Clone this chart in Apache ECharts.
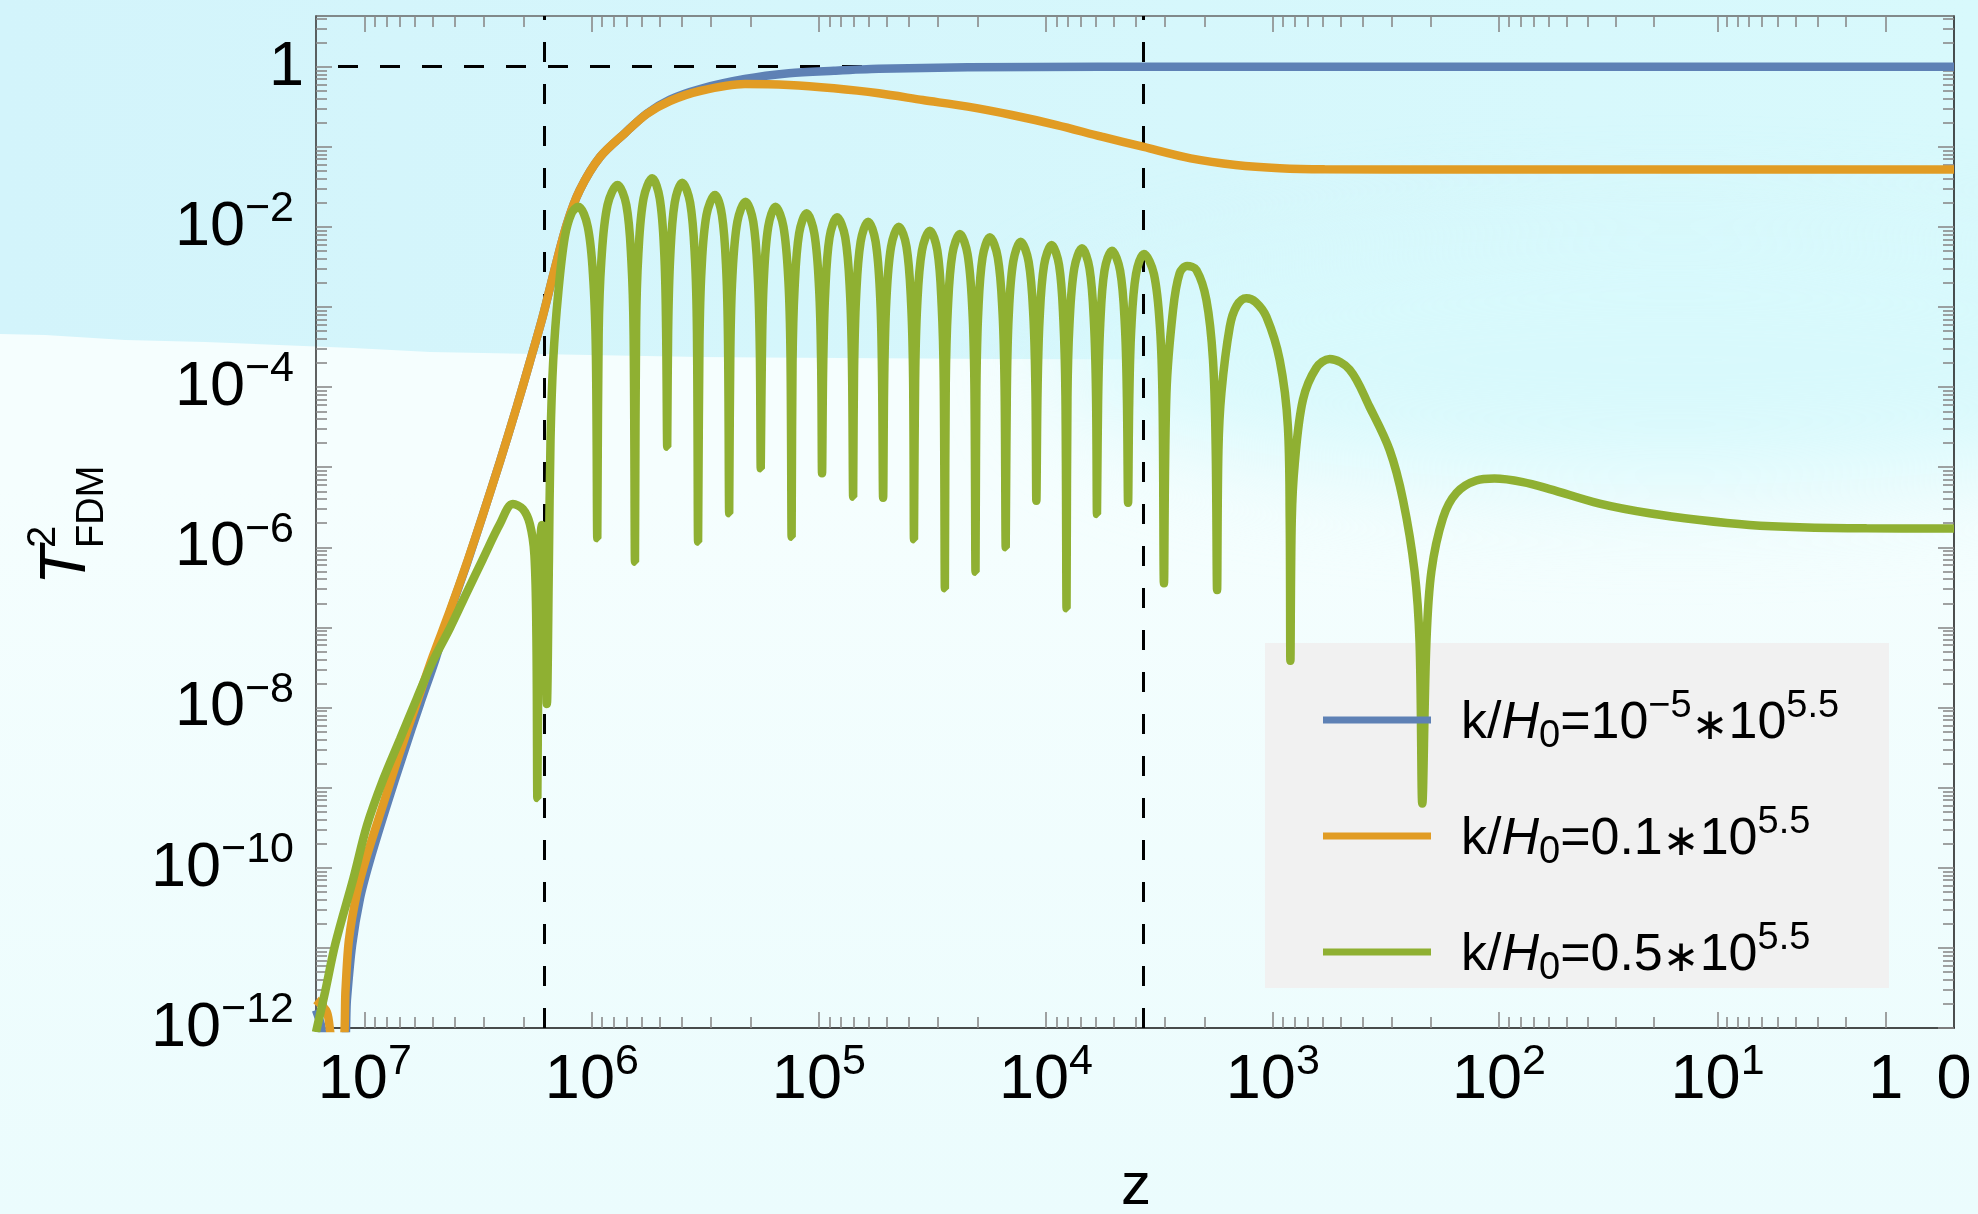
<!DOCTYPE html>
<html>
<head>
<meta charset="utf-8">
<script src="https://cdn.jsdelivr.net/npm/echarts@6/dist/echarts.min.js"></script>
<style>
  html, body { margin: 0; padding: 0; background: #f5fefe; }
  #wrap { position: relative; width: 1978px; height: 1214px; overflow: hidden; }
  .bg { position: absolute; left: 0; top: 0; width: 1978px; height: 1214px; }
  .base { background: linear-gradient(180deg, #f5fefe 0%, #f5fefe 40%, #ebfcfd 100%); }
  .upper {
    background: linear-gradient(90deg, #d3f4fb 0%, #d8f9fc 100%);
    clip-path: polygon(0 0, 1978px 0, 1978px 362px, 1000px 359px, 700px 357px, 430px 352px,
                       353px 348px, 205px 342px, 125px 340px, 45px 335px, 0 334px);
  }
  .glow {
    left: 1050px; top: 235px; width: 1250px; height: 250px;
    background: #d8f9fc; border-radius: 50%; filter: blur(50px);
  }
  #chart { position: absolute; left: 0; top: 0; width: 1978px; height: 1214px; }
</style>
</head>
<body>
<div id="wrap">
  <div class="bg base"></div>
  <div class="bg upper"></div>
  <div class="bg glow"></div>
  <div id="chart"></div>
</div>
<script>
// T^2_FDM against redshift on log-log axes.
// x values are log10(1+z) (z decreases to the right), y values are log10(T^2).

const X_RANGE = [0, 7.215];
const Y_RANGE = [-12, 0.633];

// Tick labels
const xTickZ = [1e7, 1e6, 1e5, 1e4, 1e3, 100, 10, 1, 0];
const xTickText = ['10^7', '10^6', '10^5', '10^4', '10^3', '10^2', '10^1', '1', '0'];
const yTickT2 = [1, 1e-2, 1e-4, 1e-6, 1e-8, 1e-10, 1e-12];
const yTickText = ['1', '10^\u22122', '10^\u22124', '10^\u22126', '10^\u22128', '10^\u221210', '10^\u221212'];

// Dashed reference lines: two redshifts and T^2 = 1
const zMarks = [1.64e6, 3700];
const t2Mark = 1;

// Series names (legend keys)
const seriesNames = ['k/H0=10^-5*10^5.5', 'k/H0=0.1*10^5.5', 'k/H0=0.5*10^5.5'];
const seriesColors = ['#5E81B5', '#E19C24', '#8FB032'];

// [log10(1+z), log10(T^2)]
const bluePts = [
  [7.215,-11.776],[7.193,-11.963],[7.175,-12.213],[7.092,-12.213],[7.079,-11.651],[7.056,-10.965],
  [7.021,-10.378],[6.977,-9.904],[6.907,-9.254],[6.832,-8.593],[6.757,-7.956],[6.687,-7.382],
  [6.625,-6.810],[6.550,-6.200],[6.480,-5.594],[6.405,-4.931],[6.330,-4.237],[6.273,-3.683],
  [6.217,-3.125],[6.167,-2.563],[6.110,-1.964],[6.053,-1.539],[5.964,-1.127],[5.854,-0.828],
  [5.758,-0.585],[5.656,-0.410],[5.524,-0.278],[5.326,-0.154],[5.132,-0.082],[4.934,-0.050],
  [4.736,-0.026],[4.344,-0.008],[3.763,-0.001],[0,0]
];

const orangePts = [
  [7.215,-11.651],[7.167,-11.801],[7.140,-12.151],[7.096,-12.151],[7.085,-11.527],[7.070,-10.902],
  [7.034,-10.303],[6.990,-9.841],[6.920,-9.217],[6.845,-8.555],[6.770,-7.931],[6.700,-7.357],
  [6.625,-6.789],[6.550,-6.189],[6.480,-5.594],[6.405,-4.931],[6.330,-4.237],[6.273,-3.683],
  [6.217,-3.125],[6.167,-2.563],[6.110,-1.964],[6.053,-1.539],[5.964,-1.127],[5.854,-0.828],
  [5.758,-0.591],[5.656,-0.428],[5.524,-0.303],[5.326,-0.216],[5.132,-0.228],[4.934,-0.270],
  [4.736,-0.332],[4.542,-0.416],[4.344,-0.499],[4.150,-0.603],[3.952,-0.728],[3.754,-0.874],
  [3.569,-1.002],[3.362,-1.144],[3.164,-1.227],[2.970,-1.268],[2.772,-1.281],[2.222,-1.283],
  [0,-1.283]
];

const greenPts = [
  [7.215,-12.051],[7.175,-11.551],[7.129,-10.940],[7.050,-10.128],[6.990,-9.467],[6.920,-8.905],
  [6.845,-8.393],[6.770,-7.881],[6.700,-7.419],[6.625,-7.007],[6.550,-6.558],[6.480,-6.146],
  [6.405,-5.709],[6.348,-5.459],[6.304,-5.522],[6.273,-5.709],[6.253,-6.096],[6.244,-7.157],
  [6.240,-9.130],[6.235,-7.157],[6.229,-6.034],[6.220,-5.721],[6.211,-6.034],[6.203,-6.907],
  [6.198,-7.956],[6.189,-6.158],[6.182,-4.660],[6.170,-3.662],[6.148,-2.825],[6.119,-2.126],
  [6.089,-1.826],[6.060,-1.748],
  [6.018,-1.998],[5.993,-2.688],[5.982,-3.618],[5.976,-5.887],
  [5.970,-3.347],[5.958,-2.417],[5.931,-1.727],[5.887,-1.477],
  [5.848,-1.727],[5.826,-2.417],[5.816,-3.347],[5.810,-6.180],
  [5.805,-3.263],[5.795,-2.333],[5.772,-1.643],[5.734,-1.393],
  [5.701,-1.643],[5.681,-2.333],[5.673,-3.263],[5.668,-4.744],
  [5.664,-3.318],[5.655,-2.388],[5.635,-1.698],[5.602,-1.448],
  [5.567,-1.698],[5.546,-2.388],[5.537,-3.318],[5.532,-5.930],
  [5.526,-3.472],[5.517,-2.542],[5.495,-1.852],[5.458,-1.602],
  [5.427,-1.852],[5.408,-2.542],[5.400,-3.472],[5.395,-5.575],
  [5.390,-3.555],[5.381,-2.625],[5.359,-1.935],[5.323,-1.685],
  [5.289,-1.935],[5.269,-2.625],[5.260,-3.555],[5.256,-5.014],
  [5.251,-3.618],[5.243,-2.688],[5.223,-1.998],[5.191,-1.748],
  [5.156,-1.998],[5.134,-2.688],[5.125,-3.618],[5.120,-5.868],
  [5.116,-3.700],[5.107,-2.770],[5.087,-2.080],[5.054,-1.830],
  [5.020,-2.080],[4.999,-2.770],[4.990,-3.700],[4.986,-5.076],
  [4.981,-3.750],[4.972,-2.820],[4.953,-2.130],[4.920,-1.880],
  [4.884,-2.130],[4.863,-2.820],[4.854,-3.750],[4.849,-5.368],
  [4.845,-3.805],[4.836,-2.875],[4.816,-2.185],[4.783,-1.935],
  [4.750,-2.185],[4.730,-2.875],[4.722,-3.805],[4.717,-5.381],
  [4.712,-3.867],[4.703,-2.937],[4.682,-2.247],[4.648,-1.997],
  [4.614,-2.247],[4.594,-2.937],[4.585,-3.867],[4.581,-5.900],
  [4.576,-3.917],[4.567,-2.987],[4.546,-2.297],[4.511,-2.047],
  [4.478,-2.297],[4.459,-2.987],[4.450,-3.917],[4.445,-6.512],
  [4.441,-3.959],[4.432,-3.029],[4.412,-2.339],[4.379,-2.089],
  [4.345,-2.339],[4.324,-3.029],[4.315,-3.959],[4.310,-6.304],
  [4.306,-4.000],[4.298,-3.070],[4.279,-2.380],[4.247,-2.130],
  [4.212,-2.380],[4.191,-3.070],[4.182,-4.000],[4.177,-6.000],
  [4.172,-4.055],[4.164,-3.125],[4.144,-2.435],[4.111,-2.185],
  [4.076,-2.435],[4.055,-3.125],[4.046,-4.055],[4.042,-5.418],
  [4.037,-4.096],[4.028,-3.166],[4.008,-2.476],[3.975,-2.226],
  [3.942,-2.476],[3.923,-3.166],[3.914,-4.096],[3.909,-6.761],
  [3.905,-4.137],[3.896,-3.207],[3.875,-2.517],[3.841,-2.267],
  [3.808,-2.517],[3.788,-3.207],[3.779,-4.137],[3.775,-5.584],
  [3.770,-4.167],[3.761,-3.237],[3.742,-2.547],[3.709,-2.297],
  [3.673,-2.547],[3.652,-3.237],[3.643,-4.167],[3.638,-5.443],
  [3.633,-4.208],[3.624,-3.278],[3.603,-2.588],[3.568,-2.338],
  [3.524,-2.588],[3.497,-3.278],[3.486,-4.208],[3.480,-6.449],
  [3.469,-4.077],[3.440,-3.037],[3.411,-2.579],[3.378,-2.488],
  [3.337,-2.538],[3.293,-2.913],[3.264,-3.662],[3.252,-4.785],[3.246,-6.533],
  [3.240,-4.785],[3.227,-4.074],[3.190,-3.246],[3.160,-2.987],[3.117,-2.891],
  [3.076,-2.938],[3.029,-3.121],[2.970,-3.662],[2.934,-4.494],[2.926,-5.659],[2.923,-7.416],
  [2.917,-5.659],[2.904,-4.960],[2.868,-4.161],[2.809,-3.760],[2.750,-3.649],
  [2.662,-3.781],[2.574,-4.248],[2.486,-4.785],[2.427,-5.409],[2.376,-6.301],[2.354,-7.193],[2.342,-9.199],
  [2.324,-7.193],[2.302,-6.301],[2.251,-5.633],[2.192,-5.321],[2.104,-5.165],[2.024,-5.142],
  [1.899,-5.185],[1.781,-5.272],[1.561,-5.454],[1.341,-5.575],[1.121,-5.659],[0.901,-5.721],
  [0.681,-5.750],[0.385,-5.763],[0,-5.765]
];

const FONT = '"Liberation Sans", Arial, Helvetica, sans-serif';

// ---- axis geometry helpers ----
const lz = z => Math.log10(1 + z);
const xLabelPos = xTickZ.map(lz);
const xMajorPos = xTickZ.filter(z => z > 0).map(lz);
const xMinorPos = [];
for (let n = 0; n <= 6; n++) {
  for (let m = 2; m <= 9; m++) xMinorPos.push(lz(m * Math.pow(10, n)));
}
const yLabelPos = yTickT2.map(v => Math.log10(v));
const yMajorPos = [];
const yMinorPos = [];
for (let n = -12; n <= 0; n++) {
  yMajorPos.push(n);
  for (let m = 2; m <= 9; m++) {
    const p = n + Math.log10(m);
    if (p <= Y_RANGE[1]) yMinorPos.push(p);
  }
}

function nearest(arr, v) {
  let best = 0;
  for (let i = 1; i < arr.length; i++) if (Math.abs(arr[i] - v) < Math.abs(arr[best] - v)) best = i;
  return best;
}
function richPow(t) {
  const p = t.split('^');
  return p.length > 1 ? '{b|' + p[0] + '}{s|' + p[1] + '}' : '{b|' + p[0] + '}';
}

const tickRichX = {
  b: { fontFamily: FONT, fontSize: 63, lineHeight: 80, verticalAlign: 'bottom', padding: [0, 0, 8, 0], color: '#000' },
  s: { fontFamily: FONT, fontSize: 43, lineHeight: 80, verticalAlign: 'bottom', padding: [0, 0, 36, 0], color: '#000' }
};
// on the left axis the exponent keeps a small trailing gap so a bare "1" sits closer to the frame
const tickRichY = {
  b: tickRichX.b,
  s: Object.assign({}, tickRichX.s, { padding: [0, 10, 36, 0] })
};

const tickColor = '#8a8a8a';
function xAx(extra) {
  return Object.assign({
    type: 'value', min: X_RANGE[0], max: X_RANGE[1], inverse: true, gridIndex: 0, silent: true,
    axisLine: { show: false, onZero: false },
    axisTick: { show: false },
    axisLabel: { show: false },
    splitLine: { show: false },
    axisPointer: { show: false }
  }, extra);
}
function yAx(extra) {
  return Object.assign({
    type: 'value', min: Y_RANGE[0], max: Y_RANGE[1], gridIndex: 0, silent: true,
    axisLine: { show: false, onZero: false },
    axisTick: { show: false },
    axisLabel: { show: false },
    splitLine: { show: false },
    axisPointer: { show: false }
  }, extra);
}
const majorTick = vals => ({ show: true, inside: true, length: 16, customValues: vals, lineStyle: { color: tickColor, width: 1.6 } });
const minorTick = vals => ({ show: true, inside: true, length: 11, customValues: vals, lineStyle: { color: tickColor, width: 1.6 } });

const legendRich = {
  n: { fontFamily: FONT, fontSize: 52, lineHeight: 60, verticalAlign: 'bottom', color: '#000' },
  i: { fontFamily: FONT, fontSize: 52, fontStyle: 'italic', lineHeight: 60, verticalAlign: 'bottom', color: '#000' },
  u: { fontFamily: FONT, fontSize: 38, lineHeight: 60, verticalAlign: 'bottom', padding: [0, 0, 24, 0], color: '#000' },
  d: { fontFamily: FONT, fontSize: 38, lineHeight: 60, verticalAlign: 'top', padding: [28, 0, 0, 0], color: '#000' },
  a: { fontFamily: '"DejaVu Sans", sans-serif', fontSize: 44, lineHeight: 60, verticalAlign: 'bottom', color: '#000' }
};
const legendText = {
  'k/H0=10^-5*10^5.5': '{n|k/}{i|H}{d|0}{n|=10}{u|\u22125}{a|\u2217}{n|10}{u|5.5}',
  'k/H0=0.1*10^5.5': '{n|k/}{i|H}{d|0}{n|=0.1}{a|\u2217}{n|10}{u|5.5}',
  'k/H0=0.5*10^5.5': '{n|k/}{i|H}{d|0}{n|=0.5}{a|\u2217}{n|10}{u|5.5}'
};

const chart = echarts.init(document.getElementById('chart'), null, { renderer: 'canvas' });

const option = {
  animation: false,
  backgroundColor: 'transparent',
  grid: { left: 316, top: 16, width: 1638, height: 1012, show: false },
  xAxis: [
    xAx({
      position: 'bottom',
      axisLine: { show: true, onZero: false, lineStyle: { color: '#111', width: 1.6 } },
      axisTick: majorTick(xMajorPos),
      axisLabel: {
        show: true, customValues: xLabelPos, margin: 12, rich: tickRichX,
        formatter: v => richPow(xTickText[nearest(xLabelPos, v)])
      }
    }),
    xAx({ position: 'bottom', axisTick: minorTick(xMinorPos) }),
    xAx({
      position: 'top',
      axisLine: { show: true, onZero: false, lineStyle: { color: '#666', width: 1.6 } },
      axisTick: majorTick(xMajorPos)
    }),
    xAx({ position: 'top', axisTick: minorTick(xMinorPos) })
  ],
  yAxis: [
    yAx({
      position: 'left',
      axisLine: { show: true, onZero: false, lineStyle: { color: '#3a3a3a', width: 1.6 } },
      axisTick: majorTick(yMajorPos),
      axisLabel: {
        show: true, customValues: yLabelPos, margin: 12, rich: tickRichY,
        formatter: v => richPow(yTickText[nearest(yLabelPos, v)])
      }
    }),
    yAx({ position: 'left', axisTick: minorTick(yMinorPos) }),
    yAx({
      position: 'right',
      axisLine: { show: true, onZero: false, lineStyle: { color: '#222', width: 1.6 } },
      axisTick: majorTick(yMajorPos)
    }),
    yAx({ position: 'right', axisTick: minorTick(yMinorPos) })
  ],
  legend: {
    orient: 'vertical', left: 1323, top: 688, padding: 0,
    icon: 'rect', itemWidth: 108, itemHeight: 7, itemGap: 48,
    selectedMode: false,
    itemStyle: { borderWidth: 0 },
    data: seriesNames,
    textStyle: { fontFamily: FONT, fontSize: 52, color: '#000', padding: [0, 0, 0, 25], rich: legendRich },
    formatter: name => legendText[name]
  },
  graphic: [
    // legend panel
    {
      type: 'rect', z: 1, silent: true,
      shape: { x: 1265, y: 643, width: 624, height: 345 },
      style: { fill: '#f1f1f1' }
    },
    // x axis title
    {
      type: 'text', z: 5, silent: true, x: 1136, y: 1187,
      style: { text: 'z', font: '60px ' + FONT, fill: '#000', align: 'center', verticalAlign: 'middle' }
    },
    // y axis title T^2_FDM, reading bottom to top
    {
      type: 'group', x: 89, y: 585, rotation: Math.PI / 2, silent: true,
      children: [
        { type: 'text', z: 5, x: 0, y: -22,
          style: { text: 'T', font: 'italic 64px ' + FONT, fill: '#000', align: 'left', verticalAlign: 'middle' } },
        { type: 'text', z: 5, x: 37, y: -45,
          style: { text: '2', font: '40px ' + FONT, fill: '#000', align: 'left', verticalAlign: 'middle' } },
        { type: 'text', z: 5, x: 37, y: 4,
          style: { text: 'FDM', font: '38px ' + FONT, fill: '#000', align: 'left', verticalAlign: 'middle' } }
      ]
    }
  ],
  series: [
    {
      name: 'reference-lines', type: 'line', data: [], z: 1, silent: true,
      xAxisIndex: 0, yAxisIndex: 0,
      markLine: {
        z: 1, silent: true, symbol: ['none', 'none'], animation: false,
        label: { show: false },
        lineStyle: { color: '#000', width: 3, type: [20, 22] },
        emphasis: { disabled: true },
        data: zMarks.map(z => ({ xAxis: lz(z) })).concat([{ yAxis: Math.log10(t2Mark) }])
      }
    },
    {
      name: seriesNames[0], type: 'line', data: bluePts, z: 2,
      color: seriesColors[0], showSymbol: false, symbol: 'none', smooth: 0.3,
      lineStyle: { width: 8.5, join: 'bevel' }, clip: true
    },
    {
      name: seriesNames[1], type: 'line', data: orangePts, z: 3,
      color: seriesColors[1], showSymbol: false, symbol: 'none', smooth: 0.3,
      lineStyle: { width: 8.5, join: 'bevel' }, clip: true
    },
    {
      name: seriesNames[2], type: 'line', data: greenPts, z: 3,
      color: seriesColors[2], showSymbol: false, symbol: 'none', smooth: 0.35,
      lineStyle: { width: 8.5, join: 'bevel' }, clip: true
    }
  ]
};

chart.setOption(option);
</script>
</body>
</html>
